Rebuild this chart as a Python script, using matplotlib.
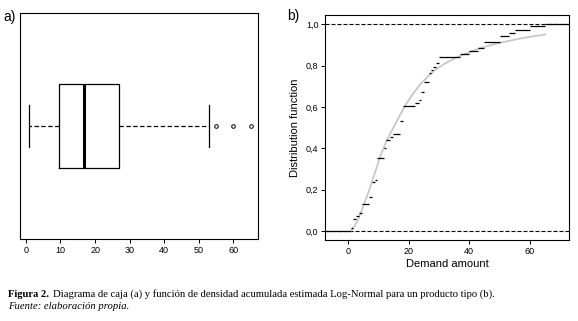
import numpy as np
import pandas as pd
import matplotlib
matplotlib.use("Agg")
import matplotlib.pyplot as plt

plt.rcParams['font.family'] = ['Liberation Sans', 'DejaVu Sans']

# box plot stats (a)
box_q1 = 9.6
box_med = 16.9
box_q3 = 27.0
whisker_lo = 1.0
whisker_hi = 53.0
outliers = [55, 60, 65]
box_ticks = [0, 10, 20, 30, 40, 50, 60]

# empirical cdf steps (b): level step_y[i] holds from step_x[i] to step_x[i+1]
step_x = [1.0, 1.5, 2.6, 3.6, 4.7, 6.8, 7.8, 8.8, 9.7, 12.0, 12.6, 13.9, 14.8,
          17.0, 18.0, 22.0, 23.3, 24.0, 25.0, 26.7, 27.5, 28.1, 29.0, 30.0,
          37.0, 40.0, 43.0, 45.0, 50.0, 53.0, 55.0, 60.0, 65.0]
step_y = [0.012, 0.056, 0.071, 0.089, 0.130, 0.164, 0.235, 0.245, 0.352, 0.400,
          0.440, 0.453, 0.468, 0.532, 0.603, 0.618, 0.634, 0.674, 0.720, 0.767,
          0.781, 0.795, 0.811, 0.840, 0.856, 0.871, 0.885, 0.913, 0.942, 0.957,
          0.975, 0.991, 1.0]

# fitted log-normal curve
fit_x = [1.0, 2.0, 3.0, 4.0, 5.0, 6.0, 7.0, 8.0, 9.5, 11.0, 12.8, 15.5, 17.5,
         19.3, 21.5, 23.7, 26.5, 29.2, 32.5, 35.8, 40.0, 43.5, 48.0, 52.3, 58.0, 65.0]
fit_y = [0.0, 0.02, 0.045, 0.08, 0.118, 0.158, 0.198, 0.245, 0.31, 0.375, 0.44,
         0.515, 0.57, 0.618, 0.665, 0.708, 0.75, 0.785, 0.815, 0.84, 0.865, 0.885,
         0.903, 0.918, 0.935, 0.951]
cdf_xticks = [0, 20, 40, 60]
cdf_yticks = [0.0, 0.2, 0.4, 0.6, 0.8, 1.0]

fig = plt.figure(figsize=(5.78, 3.21), dpi=100)
ax1 = fig.add_axes([0.0346, 0.2555, 0.4118, 0.704])
ax2 = fig.add_axes([0.5628, 0.2523, 0.4216, 0.7019])

for ax in (ax1, ax2):
    for s in ax.spines.values():
        s.set_linewidth(0.8)
    ax.tick_params(direction='out', length=3, width=0.7, labelsize=6.5, pad=2)

## (a) box plot
stats = [{'q1': box_q1, 'med': box_med, 'q3': box_q3,
          'whislo': whisker_lo, 'whishi': whisker_hi, 'fliers': outliers}]
ax1.bxp(stats, positions=[1], widths=0.4, capwidths=0.2, orientation='horizontal',
        boxprops=dict(color='black', linewidth=0.9),
        medianprops=dict(color='black', linewidth=2.2),
        whiskerprops=dict(color='black', linewidth=0.9, linestyle=(0, (3.5, 2))),
        capprops=dict(color='black', linewidth=0.9),
        flierprops=dict(marker='o', markersize=2.6, markerfacecolor='none',
                        markeredgecolor='black', markeredgewidth=0.7))
ax1.set_xlim(-1.7, 67.1)
ax1.set_ylim(0.46, 1.54)
ax1.set_xticks(box_ticks)
ax1.set_yticks([])
fig.text(0.005, 0.947, 'a)', fontsize=10, va='center')

## (b) ecdf + fitted curve
xmin, xmax = -7.5, 72.9
ax2.axhline(0, color='black', linewidth=0.8, linestyle=(0, (3.6, 1.8)))
ax2.axhline(1, color='black', linewidth=0.8, linestyle=(0, (3.6, 1.8)))
ax2.plot(fit_x, fit_y, color='#c8c8c8', linewidth=1.3)
ax2.hlines(step_y[:-1], step_x[:-1], step_x[1:], color='black', linewidth=0.9)
ax2.hlines(0, xmin, step_x[0], color='black', linewidth=0.9)
ax2.hlines(1, step_x[-1], xmax, color='black', linewidth=0.9)
ax2.set_xlim(xmin, xmax)
ax2.set_ylim(-0.044, 1.047)
ax2.set_xticks(cdf_xticks)
ax2.set_yticks(cdf_yticks)
ax2.set_yticklabels([('%.1f' % v).replace('.', ',') for v in cdf_yticks])
ax2.set_xlabel('Demand amount', fontsize=8, labelpad=2)
ax2.set_ylabel('Distribution function', fontsize=8, labelpad=4)
fig.text(0.497, 0.95, 'b)', fontsize=10, va='center')

# caption
fig.text(0.014, 0.076, 'Figura 2.', fontsize=7.6, fontweight='bold',
         family=['Liberation Serif'], va='baseline')
fig.text(0.092, 0.076,
         'Diagrama de caja (a) y función de densidad acumulada estimada '
         'Log-Normal para un producto tipo (b).',
         fontsize=7.7, family=['Liberation Serif'], va='baseline')
fig.text(0.014, 0.036, 'Fuente: elaboración propia.', fontsize=7.7,
         style='italic', family=['Liberation Serif'], va='baseline')

fig.savefig('out.png', dpi=100)
